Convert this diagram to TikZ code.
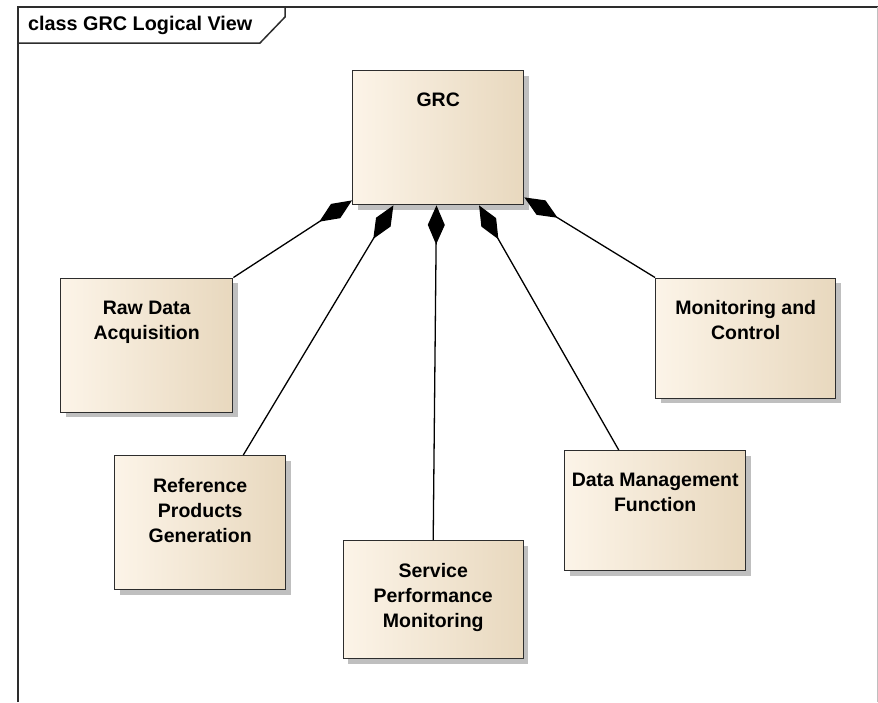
\documentclass[tikz,border=0pt]{standalone}
\usepackage{fontspec}
\setmainfont{Liberation Sans}
\usetikzlibrary{arrows.meta,shadows,calc}
\definecolor{boxL}{RGB}{252,244,232}
\definecolor{boxM}{RGB}{247,236,218}
\definecolor{boxR}{RGB}{232,216,190}
\definecolor{edgec}{RGB}{45,45,45}
\newcommand\clsfont{\bfseries\fontsize{19.5}{25}\selectfont}
\begin{document}
\begin{tikzpicture}[x=1pt,y=-1pt,
  cls/.style={draw=edgec, line width=1.4pt, left color=boxL, middle color=boxM, right color=boxR,
    anchor=north west, inner sep=0pt,
    drop shadow={shadow xshift=5pt, shadow yshift=-5pt, fill=black!45, opacity=0.55}},
  clslabel/.style={anchor=north, inner sep=0pt, align=center, font=\clsfont, label distance=-23pt},
  assoc/.style={{Diamond[length=39pt,width=17pt]}-, line width=1.3pt, black},
  framec/.style={draw=edgec, line width=1.5pt}]
\useasboundingbox (0,0) rectangle (878,702);
\fill[white] (0,0) rectangle (878,702);
% frame
\draw[framec] (18,702) -- (18,7) -- (878,7);
\draw[black!25, line width=1pt] (877,7) -- (877,702);
\draw[framec] (18,43) -- (260,43) -- (285,17) -- (285,7);
\node[font=\bfseries\fontsize{19.8}{24}\selectfont, anchor=base west, inner sep=0pt] (title) at (28,30.5) {class GRC Logical View};
% classes
\node[cls, minimum width=171, minimum height=134, label={[clslabel]north:GRC}] (grc) at (352,70) {};
\node[cls, minimum width=172, minimum height=134, label={[clslabel]north:Raw Data\\Acquisition}] (raw) at (60,277.5) {};
\node[cls, minimum width=180, minimum height=120, label={[clslabel]north:Monitoring and\\Control}] (mc) at (655,277.5) {};
\node[cls, minimum width=171, minimum height=134, label={[clslabel]north:Reference\\Products\\Generation}] (ref) at (114,455) {};
\node[cls, minimum width=180, minimum height=118, label={[clslabel]north:Service\\Performance\\Monitoring}] (spm) at (342.5,540) {};
\node[cls, minimum width=181, minimum height=120, label={[clslabel]north:Data Management\\Function}] (dmf) at (564,450) {};
% associations (composition)
\draw[assoc] ($(grc.south west)+(0,-5)$) -- (raw.north east);
\draw[assoc] ($(grc.south west)!0.24!(grc.south east)$) -- ($(ref.north west)!0.75!(ref.north east)$);
\draw[assoc] ($(grc.south west)!0.49!(grc.south east)$) -- (spm.north);
\draw[assoc] ($(grc.south west)!0.737!(grc.south east)$) -- ($(dmf.north west)!0.30!(dmf.north east)$);
\draw[assoc] ($(grc.south east)+(0,-8)$) -- (mc.north west);
\end{tikzpicture}
\end{document}
